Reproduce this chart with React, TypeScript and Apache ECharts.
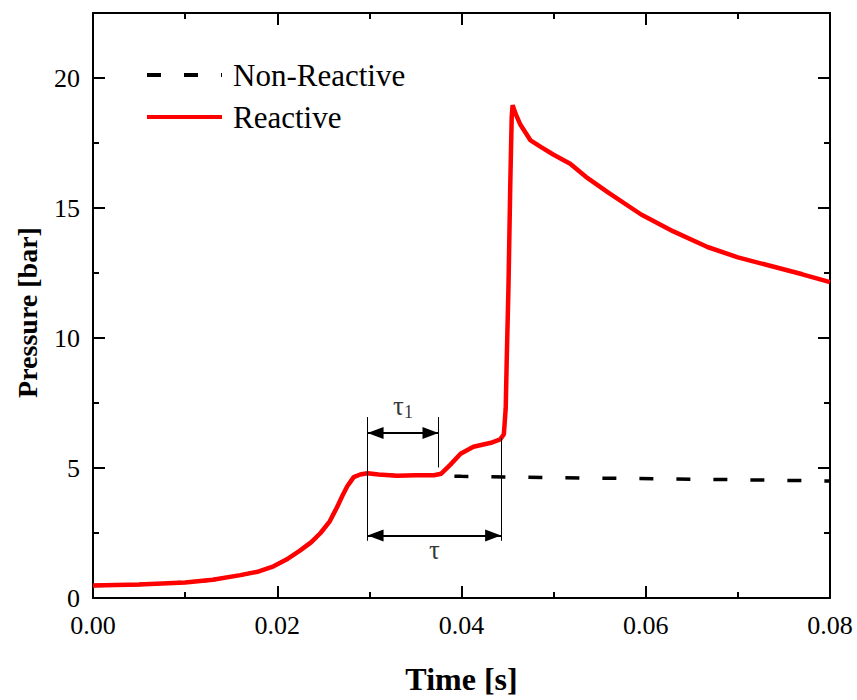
import React, { useEffect, useRef } from "react";
import * as echarts from "echarts";

const reactiveT = [0, 0.005, 0.01, 0.013, 0.016, 0.018, 0.0196, 0.021, 0.0225, 0.0237, 0.0247, 0.0257, 0.0265, 0.0271, 0.0276, 0.0283, 0.029, 0.0298, 0.031, 0.033, 0.035, 0.037, 0.0378, 0.0388, 0.0399, 0.0413, 0.0432, 0.0442, 0.0446, 0.0448, 0.0449, 0.0451, 0.0453, 0.04545, 0.04555, 0.0459, 0.0464, 0.0475, 0.0486, 0.05, 0.0518, 0.0535, 0.0559, 0.0595, 0.063, 0.0667, 0.07, 0.0739, 0.077, 0.08];
const reactiveP = [0.48, 0.52, 0.6, 0.7, 0.88, 1.02, 1.22, 1.48, 1.83, 2.15, 2.5, 2.95, 3.5, 3.95, 4.3, 4.65, 4.75, 4.8, 4.75, 4.7, 4.72, 4.72, 4.78, 5.13, 5.55, 5.82, 5.97, 6.1, 6.3, 7.3, 9, 12, 16, 18.5, 18.95, 18.6, 18.2, 17.6, 17.35, 17.05, 16.7, 16.2, 15.6, 14.75, 14.1, 13.5, 13.1, 12.74, 12.45, 12.15];

const nonReactiveT = [0, 0.005, 0.01, 0.013, 0.016, 0.018, 0.0196, 0.021, 0.0225, 0.0237, 0.0247, 0.0257, 0.0265, 0.0271, 0.0276, 0.0283, 0.029, 0.0298, 0.031, 0.033, 0.035, 0.037, 0.0378, 0.04, 0.05, 0.058, 0.07, 0.08];
const nonReactiveP = [0.48, 0.52, 0.6, 0.7, 0.88, 1.02, 1.22, 1.48, 1.83, 2.15, 2.5, 2.95, 3.5, 3.95, 4.3, 4.65, 4.75, 4.8, 4.75, 4.7, 4.72, 4.72, 4.7, 4.68, 4.63, 4.6, 4.55, 4.5];

const xTicks = [0, 0.02, 0.04, 0.06, 0.08];
const yTicks = [0, 5, 10, 15, 20];

// annotation: time markers (s) and pressure levels (bar)
const tauStart = 0.0298;
const tau1End = 0.0375;
const tauEnd = 0.0443;
const tau1ArrowP = 6.35;
const tauArrowP = 2.4;
const guideTop = 6.96;
const guideBottom = 2.2;
const tau1GuideBottom = 5.02;
const tauGuideTop = 6.16;

const FONT = "Liberation Serif";

export default function App() {
  const ref = useRef<HTMLDivElement>(null);
  useEffect(() => {
    document.body.style.margin = "0";
    const chart = echarts.init(ref.current!, null, { renderer: "svg" });
    const axisLine = { show: true, onZero: false, lineStyle: { color: "#000", width: 2 } };
    const tick = { show: true, inside: true, length: 12, lineStyle: { color: "#000", width: 2 } };
    const minor = { show: true, splitNumber: 2, length: 6, lineStyle: { color: "#000", width: 2 } };
    const arrowLine = { color: "#000", width: 2, type: "solid" as const };
    const guideLine = { color: "#000", width: 1, type: "solid" as const };
    const arrowHead = { symbol: "triangle", symbolSize: [12, 16], symbolOffset: [0, 8] };
    chart.setOption({
      animation: false,
      backgroundColor: "#fff",
      textStyle: { fontFamily: FONT },
      grid: { left: 93, right: 27, top: 13, bottom: 95 },
      legend: {
        data: ["Non-Reactive", "Reactive"],
        orient: "vertical",
        left: 145,
        top: 58,
        padding: 0,
        itemWidth: 75,
        itemHeight: 14,
        itemGap: 8,
        itemStyle: { opacity: 0 },
        lineStyle: { width: 4 },
        textStyle: { fontFamily: FONT, fontSize: 31, color: "#000", lineHeight: 34, padding: [0, 0, 0, 6] },
      },
      xAxis: [
        {
          type: "value", min: 0, max: 0.08, interval: 0.02,
          name: "Time [s]", nameLocation: "middle", nameGap: 65,
          nameTextStyle: { fontFamily: FONT, fontSize: 32, fontWeight: "bold", color: "#000" },
          axisLine, axisTick: tick, minorTick: minor, splitLine: { show: false },
          axisLabel: {
            fontFamily: FONT, fontSize: 26, color: "#000", margin: 14,
            formatter: (v: number) => (xTicks.some((t) => Math.abs(t - v) < 1e-9) ? v.toFixed(2) : ""),
          },
        },
        {
          type: "value", position: "top", min: 0, max: 0.08, interval: 0.02,
          axisLine, axisTick: tick, minorTick: minor, splitLine: { show: false }, axisLabel: { show: false },
        },
      ],
      yAxis: [
        {
          type: "value", min: 0, max: 22.5, interval: 5,
          name: "Pressure [bar]", nameLocation: "middle", nameGap: 52,
          nameTextStyle: { fontFamily: FONT, fontSize: 28, fontWeight: "bold", color: "#000", padding: [0, 14, 0, 0] },
          axisLine, axisTick: tick, minorTick: minor, splitLine: { show: false },
          axisLabel: {
            fontFamily: FONT, fontSize: 26, color: "#000", margin: 13,
            formatter: (v: number) => (yTicks.includes(v) ? String(v) : ""),
          },
        },
        {
          type: "value", position: "right", min: 0, max: 22.5, interval: 5,
          axisLine, axisTick: tick, minorTick: minor, splitLine: { show: false }, axisLabel: { show: false },
        },
      ],
      series: [
        {
          name: "Non-Reactive", type: "line", showSymbol: false, symbol: "none", z: 2,
          data: nonReactiveT.map((t, i) => [t, nonReactiveP[i]]),
          lineStyle: { color: "#000", width: 3.5, type: [14, 23] },
          itemStyle: { color: "#000" },
        },
        {
          name: "Reactive", type: "line", showSymbol: false, symbol: "none", z: 3,
          data: reactiveT.map((t, i) => [t, reactiveP[i]]),
          lineStyle: { color: "#ff0000", width: 4.5 },
          itemStyle: { color: "#ff0000" },
        },
        {
          name: "annot", type: "line", data: [], z: 5,
          markLine: {
            silent: true,
            label: { show: false },
            emphasis: { disabled: true },
            data: [
              [{ coord: [tauStart, guideBottom], symbol: "none", lineStyle: guideLine }, { coord: [tauStart, guideTop], symbol: "none" }],
              [{ coord: [tau1End, tau1GuideBottom], symbol: "none", lineStyle: guideLine }, { coord: [tau1End, guideTop], symbol: "none" }],
              [{ coord: [tauEnd, guideBottom], symbol: "none", lineStyle: guideLine }, { coord: [tauEnd, tauGuideTop], symbol: "none" }],
              [{ coord: [tauStart, tau1ArrowP], ...arrowHead, lineStyle: arrowLine, itemStyle: { color: "#000" } }, { coord: [tau1End, tau1ArrowP], ...arrowHead }],
              [{ coord: [tauStart, tauArrowP], ...arrowHead, lineStyle: arrowLine, itemStyle: { color: "#000" } }, { coord: [tauEnd, tauArrowP], ...arrowHead }],
            ],
          },
        },
        {
          name: "labels", type: "scatter", symbolSize: 0, z: 6, silent: true,
          data: [
            { value: [(tauStart + tau1End) / 2, 7.4], label: { formatter: "{a|τ}{b|1}" } },
            { value: [(tauStart + tauEnd) / 2, 1.85], label: { formatter: "{a|τ}" } },
          ],
          label: {
            show: true, position: "inside",
            rich: {
              a: { fontFamily: FONT, fontSize: 27, color: "#000" },
              b: { fontFamily: FONT, fontSize: 18, color: "#000", padding: [12, 0, 0, 0] },
            },
          },
        },
      ],
    });
    return () => chart.dispose();
  }, []);
  return <div ref={ref} style={{ width: 857, height: 700 }} />;
}
